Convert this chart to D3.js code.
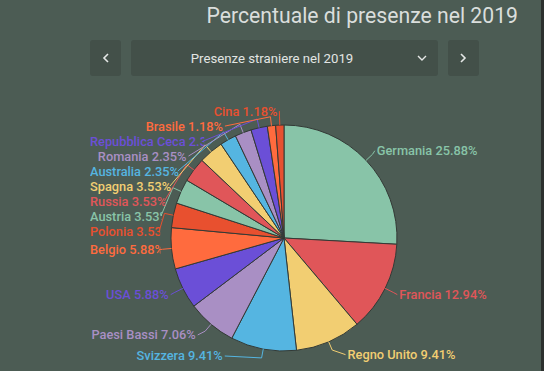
<!DOCTYPE html>
<html>
<head>
<meta charset="utf-8">
<script src="https://cdn.jsdelivr.net/npm/d3@7"></script>
<style>
    html, body { margin: 0; padding: 0; background: #4c5c54; overflow: hidden; }
    text { font-family: Roboto, "Noto Sans", sans-serif; }
</style>
</head>
<body>
<div id="chart"></div>
<script>
// dati
const paesi = ["Germania", "Francia", "Regno Unito", "Svizzera", "Paesi Bassi", "USA", "Belgio", "Polonia",
    "Austria", "Russia", "Spagna", "Australia", "Romania", "Repubblica Ceca", "Brasile", "Cina"];
const percentuali = [25.88, 12.94, 9.41, 9.41, 7.06, 5.88, 5.88, 3.53, 3.53, 3.53, 3.53, 2.35, 2.35, 2.35, 1.18, 1.18];
const colori = ["#88c4a8", "#e05659", "#f2ce72", "#55b5e1", "#a98fc4", "#6b4fd7", "#ff6b3e", "#e8502f"];
const titolo = "Percentuale di presenze nel 2019";
const selezione = "Presenze straniere nel 2019";

const width = 544, height = 371;
const cx = 284, cy = 238, radius = 113;

const svg = d3.select("#chart").append("svg")
    .attr("width", width)
    .attr("height", height);

// bordo scuro a destra
svg.append("rect")
    .attr("x", width - 3).attr("y", 0)
    .attr("width", 3).attr("height", height)
    .attr("fill", "#2c302e");

// titolo
svg.append("text")
    .attr("x", 518).attr("y", 23)
    .attr("text-anchor", "end")
    .attr("font-size", 21.2)
    .attr("fill", "#dadedc")
    .text(titolo);

// pulsanti e menu a tendina
const header = svg.append("g").attr("class", "header");
header.append("rect").attr("x", 90).attr("y", 40).attr("width", 31).attr("height", 36).attr("rx", 3).attr("fill", "#435049");
header.append("rect").attr("x", 131).attr("y", 40).attr("width", 307).attr("height", 36).attr("rx", 3).attr("fill", "#435049");
header.append("rect").attr("x", 448).attr("y", 40).attr("width", 31).attr("height", 36).attr("rx", 3).attr("fill", "#435049");

header.append("path").attr("d", "M108,54 l-4,4 l4,4").attr("fill", "none").attr("stroke", "#e6e8e7").attr("stroke-width", 1.6);
header.append("path").attr("d", "M461,54 l4,4 l-4,4").attr("fill", "none").attr("stroke", "#e6e8e7").attr("stroke-width", 1.6);
header.append("path").attr("d", "M418,56 l4,4 l4,-4").attr("fill", "none").attr("stroke", "#e6e8e7").attr("stroke-width", 1.4);

header.append("text")
    .attr("x", 272).attr("y", 58)
    .attr("dy", "0.35em")
    .attr("text-anchor", "middle")
    .attr("font-size", 13.2)
    .attr("fill", "#e2e5e3")
    .text(selezione);

// torta
const color = d3.scaleOrdinal().domain(paesi).range(colori);

const pie = d3.pie().sort(null).value(d => d.valore);
const dati = paesi.map((p, i) => ({paese: p, valore: percentuali[i]}));
const archi = pie(dati);

const arc = d3.arc().innerRadius(0).outerRadius(radius);

const g = svg.append("g").attr("transform", `translate(${cx},${cy})`);

g.selectAll(".fetta")
    .data(archi)
    .enter().append("path")
    .attr("class", "fetta")
    .attr("d", arc)
    .attr("fill", d => color(d.data.paese))
    .attr("stroke", "#333a36")
    .attr("stroke-width", 1);

// disposizione etichette (spinte in basso / in alto per non sovrapporsi)
const labelR = 127, gap = 15, topY = 111 - cy, bottomY = 356 - cy, leftBound = 90 - cx;
const ellisseX = 125, ellisseSopra = 127, ellisseSotto = 134;

archi.forEach(d => {
    d.mid = (d.startAngle + d.endAngle) / 2;
    d.side = Math.sin(d.mid) >= 0 ? 1 : -1;
    d.ly = -labelR * Math.cos(d.mid);
});

[1, -1].forEach(side => {
    const lista = archi.filter(d => d.side === side).sort((a, b) => a.ly - b.ly);
    let prev = -Infinity;
    lista.forEach(d => {
        d.ly = Math.max(d.ly, prev + gap, topY);
        prev = d.ly;
    });
    let next = Infinity;
    for (let i = lista.length - 1; i >= 0; i--) {
        const d = lista[i];
        d.ly = Math.min(d.ly, next - gap, bottomY);
        next = d.ly;
    }
    // x sulle due semi-ellissi
    lista.forEach(d => {
        const rB = d.ly < 0 ? ellisseSopra : ellisseSotto;
        const k = Math.max(1 - (d.ly * d.ly) / (rB * rB), 0);
        d.lx = side * ellisseX * Math.sqrt(k);
    });
});

const defs = svg.append("defs");

const etichette = g.selectAll(".etichetta")
    .data(archi)
    .enter().append("g")
    .attr("class", "etichetta");

etichette.append("polyline")
    .attr("fill", "none")
    .attr("stroke", d => color(d.data.paese))
    .attr("stroke-width", 1)
    .attr("points", d => {
        const p0 = [radius * Math.sin(d.mid), -radius * Math.cos(d.mid)];
        const p1 = [(radius + 9) * Math.sin(d.mid), -(radius + 9) * Math.cos(d.mid)];
        const p2 = [d.lx, d.ly];
        return [p0, p1, p2].map(p => p.join(",")).join(" ");
    });

etichette.append("text")
    .attr("x", d => d.lx + d.side * 2)
    .attr("y", d => d.ly)
    .attr("dy", "0.35em")
    .attr("text-anchor", d => d.side > 0 ? "start" : "end")
    .attr("font-size", 12.8)
    .attr("font-weight", 500)
    .attr("fill", d => color(d.data.paese))
    .text(d => d.data.paese + " " + d3.format(".2f")(d.data.valore) + "%")
    .each(function(d, i) {
        // le etichette troppo lunghe a sinistra partono dal bordo e vengono tagliate
        if (d.side > 0) return;
        const w = this.getComputedTextLength();
        const fine = d.lx - 2;
        if (fine - w < leftBound) {
            const id = "taglio-" + i;
            defs.append("clipPath").attr("id", id)
                .append("rect")
                .attr("x", leftBound)
                .attr("y", d.ly - 10)
                .attr("width", fine + 3 - leftBound)
                .attr("height", 20);
            d3.select(this)
                .attr("x", leftBound)
                .attr("text-anchor", "start")
                .attr("clip-path", `url(#${id})`);
        }
    });
</script>
</body>
</html>
